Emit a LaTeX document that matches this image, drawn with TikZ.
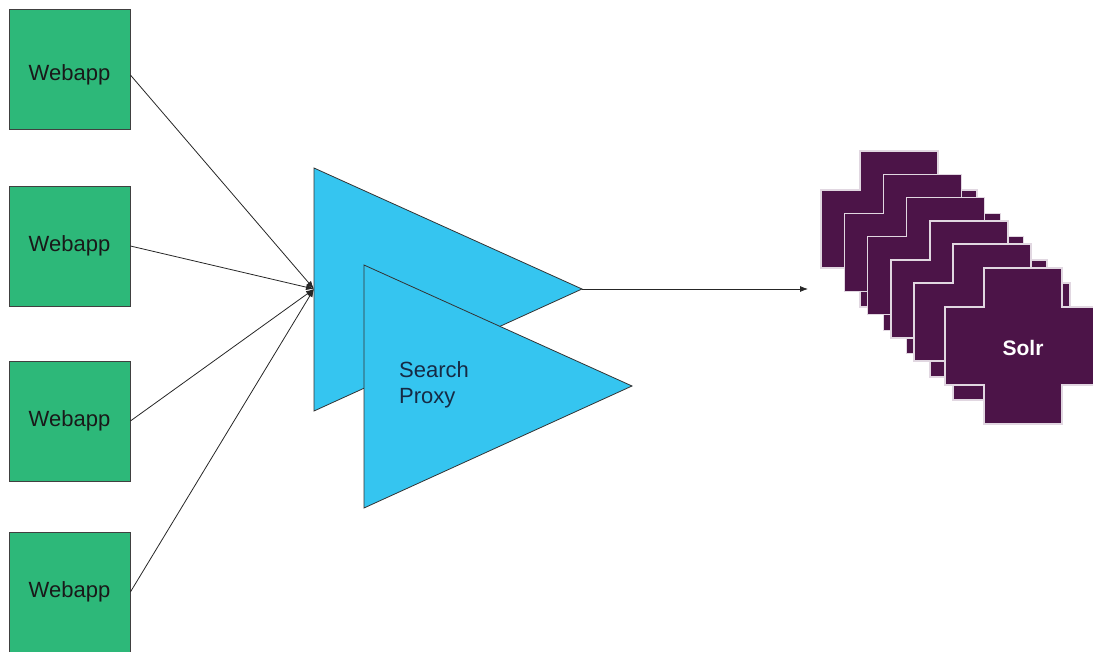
\documentclass[tikz,border=0pt]{standalone}
\usepackage{fontspec}
\setmainfont{Liberation Sans}
\usepackage{xcolor}
\usepackage{tikz}
\usetikzlibrary{arrows.meta, positioning}
\definecolor{appgreen}{RGB}{45,184,121}
\definecolor{proxyblue}{RGB}{53,197,240}
\definecolor{proxytext}{RGB}{22,42,68}
\definecolor{solrpurple}{RGB}{76,20,72}
\definecolor{solredge}{RGB}{225,215,225}

% plus shaped Solr outline, top left corner of the upper arm at (#1,#2)
\newcommand{\solrplus}[2]{%
  \draw[fill=solrpurple, draw=solredge, line width=1.3pt]
    (#1,#2) -- ++(78,0) -- ++(0,39) -- ++(39,0) -- ++(0,78) -- ++(-39,0)
    -- ++(0,39) -- ++(-78,0) -- ++(0,-39) -- ++(-39,0) -- ++(0,-78)
    -- ++(39,0) -- cycle;}

\begin{document}
\begin{tikzpicture}[x=1pt, y=-1pt, every node/.style={font=\fontsize{22}{26}\selectfont}]
        \useasboundingbox (0,0) rectangle (1093,652);
        \tikzset{appbox/.style={draw=black!75, line width=0.8pt, rectangle, fill=appgreen, minimum width=121pt, minimum height=120pt, text=black!90}}

        % Webapp boxes
        \node[appbox, text height=28pt] (app1) at (69.5, 69) {Webapp};
        \node[appbox] (app2) at (69.5, 246) {Webapp};
        \node[appbox] (app3) at (69.5, 421) {Webapp};
        \node[appbox] (app4) at (69.5, 592) {Webapp};

        % Proxy triangles
        \draw[fill=proxyblue, draw=black!80, line width=0.8pt] (314, 168) -- (582, 289) -- (314, 411) -- cycle;
        \draw[fill=proxyblue, draw=black!80, line width=0.8pt] (364, 265) -- (632, 386) -- (364, 508) -- cycle;
        \coordinate (proxyin) at (314, 289);
        \coordinate (proxyout) at (582, 289);
        \node[anchor=west, align=left, text=proxytext, inner sep=0pt] (proxy) at (399, 385) {Search\\Proxy};

        % Requests
        \draw[-{Latex[length=8pt, width=6pt]}, line width=0.8pt, black!85] ([yshift=-6pt]app1.east) -- (proxyin);
        \draw[-{Latex[length=8pt, width=6pt]}, line width=0.8pt, black!85] (app2.east) -- (proxyin);
        \draw[-{Latex[length=8pt, width=6pt]}, line width=0.8pt, black!85] (app3.east) -- (proxyin);
        \draw[-{Latex[length=8pt, width=6pt]}, line width=0.8pt, black!85] (app4.east) -- (proxyin);

        % Solr stack
        \solrplus{860}{151}
        \solrplus{883.3}{174.3}
        \solrplus{906.6}{197.6}
        \solrplus{930}{221}
        \solrplus{953}{244}
        \solrplus{984}{268}
        \node[text=white, font=\fontsize{21}{24}\selectfont\bfseries] (solr) at (1023, 348) {Solr};
        \coordinate (solrin) at (808, 289);

        \draw[-{Latex[length=8pt, width=6pt]}, line width=0.8pt, black!85] (proxyout) -- (solrin);
    \end{tikzpicture}
\end{document}
